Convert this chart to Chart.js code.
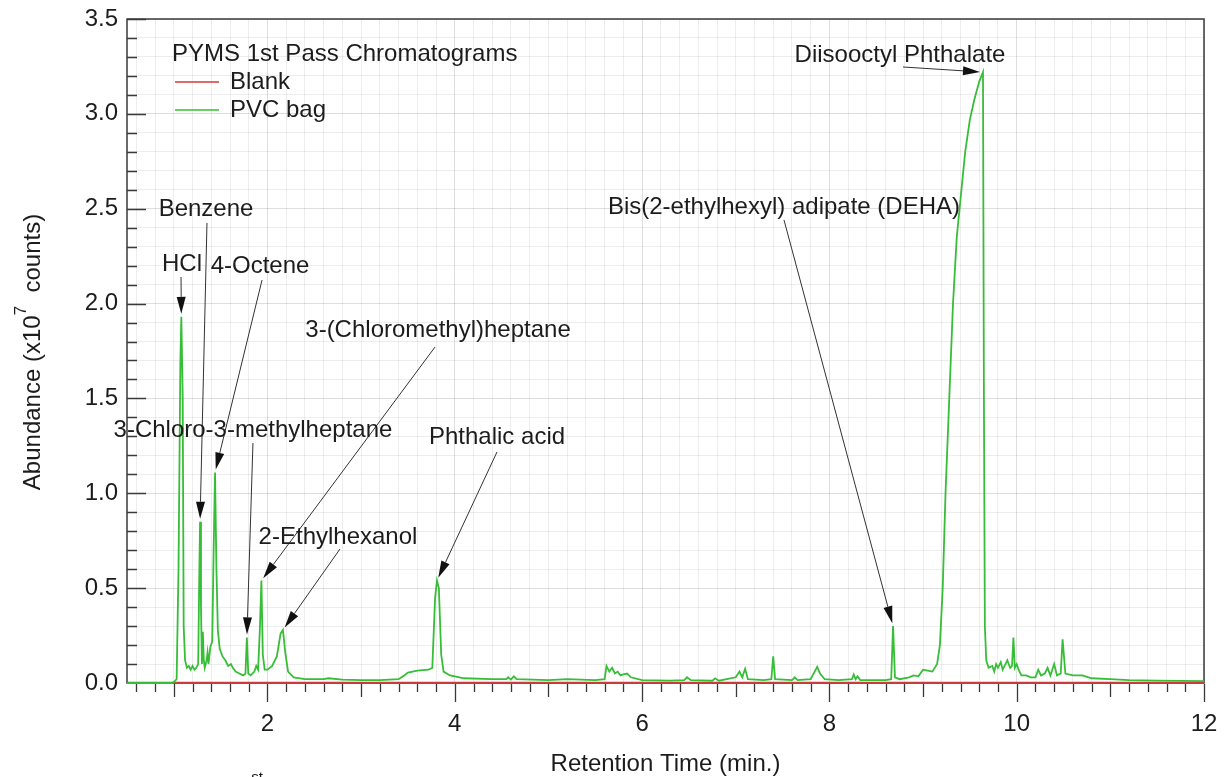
<!DOCTYPE html>
<html>
<head>
<meta charset="utf-8">
<title>PYMS 1st Pass Chromatograms</title>
<script src="https://cdn.jsdelivr.net/npm/chart.js@4.4.1/dist/chart.umd.min.js"></script>
<style>
  html, body { margin: 0; padding: 0; background: #fff; }
  #wrap { position: relative; width: 1225px; height: 777px; overflow: hidden; }
</style>
</head>
<body>
<div id="wrap"><canvas id="chromChart" width="1225" height="777"></canvas></div>
<script>
// Retention time (min.) and abundance (x10^7 counts) for the PVC bag run
const retentionTime = [
  0.5, 0.98, 1.0, 1.03, 1.05, 1.07, 1.08, 1.095, 1.105, 1.12, 1.14, 1.16, 1.18, 1.2, 1.22, 1.24, 1.26,
  1.27, 1.28, 1.29, 1.3, 1.31, 1.32, 1.33, 1.35, 1.36, 1.37, 1.39, 1.41, 1.425, 1.44, 1.455, 1.47,
  1.49, 1.52, 1.55, 1.58, 1.61, 1.63, 1.66, 1.7, 1.74, 1.765, 1.78, 1.795, 1.82, 1.86, 1.88, 1.9,
  1.92, 1.935, 1.95, 1.97, 2.0, 2.05, 2.1, 2.14, 2.165, 2.19, 2.22, 2.28, 2.4, 2.6, 2.65, 2.8, 3.0,
  3.2, 3.4, 3.46, 3.5, 3.6, 3.72, 3.76, 3.79, 3.81, 3.83, 3.855, 3.88, 3.95, 4.1, 4.4, 4.55, 4.57,
  4.6, 4.63, 4.66, 5.0, 5.2, 5.5, 5.6, 5.62, 5.65, 5.68, 5.71, 5.74, 5.77, 5.8, 5.84, 5.88, 6.0,
  6.3, 6.45, 6.48, 6.52, 6.75, 6.78, 6.82, 7.0, 7.04, 7.07, 7.1, 7.13, 7.3, 7.38, 7.4, 7.42, 7.6,
  7.63, 7.66, 7.8, 7.87, 7.9, 7.95, 8.1, 8.24, 8.26, 8.28, 8.3, 8.33, 8.6, 8.66, 8.68, 8.7, 8.75,
  8.85, 8.9, 8.95, 9.0, 9.05, 9.1, 9.15, 9.18, 9.21, 9.24, 9.28, 9.32, 9.36, 9.4, 9.45, 9.5, 9.55,
  9.6, 9.64, 9.65, 9.66, 9.675, 9.7, 9.74, 9.76, 9.78, 9.8, 9.83, 9.85, 9.88, 9.9, 9.93, 9.95,
  9.965, 9.98, 10.0, 10.02, 10.05, 10.1, 10.15, 10.2, 10.23, 10.26, 10.3, 10.33, 10.36, 10.4, 10.43,
  10.47, 10.49, 10.52, 10.6, 10.7, 10.8, 11.0, 11.2, 11.5, 12.0
];
const pvcBag = [
  0, 0, 0.005, 0.02, 0.6, 1.7, 1.93, 1.5, 0.3, 0.12, 0.08, 0.09, 0.07, 0.09, 0.07, 0.08, 0.1,
  0.5, 0.85, 0.4, 0.1, 0.27, 0.12, 0.08, 0.12, 0.16, 0.1, 0.19, 0.22, 0.7, 1.11, 0.6, 0.28,
  0.18, 0.14, 0.12, 0.09, 0.1, 0.08, 0.06, 0.05, 0.04, 0.05, 0.24, 0.05, 0.04, 0.06, 0.09, 0.07,
  0.3, 0.54, 0.15, 0.07, 0.07, 0.09, 0.14, 0.26, 0.28, 0.16, 0.06, 0.03, 0.02, 0.02, 0.025, 0.018, 0.015,
  0.015, 0.02, 0.04, 0.055, 0.065, 0.07, 0.08, 0.45, 0.54, 0.5, 0.15, 0.06, 0.04, 0.025, 0.02, 0.02, 0.03,
  0.018, 0.035, 0.02, 0.015, 0.02, 0.015, 0.02, 0.09, 0.06, 0.08, 0.05, 0.06, 0.04, 0.045, 0.05, 0.03, 0.015,
  0.012, 0.015, 0.03, 0.015, 0.012, 0.025, 0.012, 0.03, 0.06, 0.03, 0.075, 0.02, 0.015, 0.02, 0.14, 0.02, 0.015,
  0.03, 0.015, 0.02, 0.085, 0.05, 0.02, 0.015, 0.02, 0.045, 0.02, 0.035, 0.015, 0.015, 0.02, 0.3, 0.03, 0.02,
  0.03, 0.04, 0.035, 0.07, 0.065, 0.06, 0.1, 0.2, 0.5, 1.0, 1.5, 2.0, 2.35, 2.55, 2.8, 2.97, 3.08,
  3.17, 3.22, 1.5, 0.3, 0.12, 0.08, 0.09, 0.06, 0.1, 0.08, 0.11, 0.07, 0.1, 0.12, 0.08, 0.09,
  0.24, 0.08, 0.1, 0.07, 0.04, 0.04, 0.03, 0.03, 0.07, 0.04, 0.05, 0.08, 0.04, 0.1, 0.04,
  0.05, 0.23, 0.05, 0.04, 0.04, 0.025, 0.02, 0.015, 0.012, 0.01
];
// Blank run stays flat on the baseline
const blankTime = [0.5, 12];
const blankAbundance = [0.002, 0.002];

const xLabelValues = [2, 4, 6, 8, 10, 12];
const yLabelValues = [0.0, 0.5, 1.0, 1.5, 2.0, 2.5, 3.0, 3.5];

const compounds = [
  'HCl', 'Benzene', '4-Octene', '3-(Chloromethyl)heptane', '3-Chloro-3-methylheptane',
  'Phthalic acid', '2-Ethylhexanol', 'Bis(2-ethylhexyl) adipate (DEHA)', 'Diisooctyl Phthalate'
];
const compoundTimes = [1.08, 1.28, 1.44, 1.935, 1.78, 3.81, 2.165, 8.68, 9.64];

// where each compound name sits and where its pointer starts, in axis units
const labelLayout = [
  { text: [1.087, 2.209], tail: [1.077, 2.14] },
  { text: [1.344, 2.499], tail: [1.354, 2.425] },
  { text: [1.92, 2.198], tail: [1.942, 2.124] },
  { text: [3.821, 1.861], tail: [3.789, 1.771] },
  { text: [1.845, 1.334], tail: [1.845, 1.265] },
  { text: [4.451, 1.297], tail: [4.451, 1.218] },
  { text: [2.753, 0.77], tail: [2.774, 0.706] },
  { text: [7.515, 2.509], tail: [7.515, 2.441] },
  { text: [8.754, 3.31], tail: [8.786, 3.247] }
];

const FONT = '"Liberation Sans", Arial, sans-serif';
const TEXT_SIZE = 24;
const INK = '#1c1c1c';

function toPoints(xs, ys) {
  return xs.map((x, i) => ({ x: x, y: ys[i] }));
}

function round1(v) {
  return Math.round(v * 10) / 10;
}

function isHalfStep(v) {
  return Math.abs(v * 2 - Math.round(v * 2)) < 1e-6;
}

function peakValue(t) {
  let best = 0;
  retentionTime.forEach((rt, i) => {
    if (Math.abs(rt - t) < 0.012 && pvcBag[i] > best) best = pvcBag[i];
  });
  return best;
}

// frame box under the traces, tick marks on top (inside on y, hanging below on x)
const frameAndTicks = {
  id: 'frameAndTicks',
  beforeDatasetsDraw(chart) {
    const { ctx, chartArea: a } = chart;
    ctx.save();
    ctx.strokeStyle = '#3a3a3a';
    ctx.lineWidth = 1.5;
    ctx.strokeRect(a.left, a.top, a.right - a.left, a.bottom - a.top);
    ctx.restore();
  },
  afterDatasetsDraw(chart) {
    const { ctx, chartArea: a, scales: { x, y } } = chart;
    ctx.save();
    ctx.strokeStyle = '#3a3a3a';
    ctx.lineWidth = 1.3;
    ctx.beginPath();
    x.ticks.forEach(t => {
      const v = round1(t.value);
      const px = Math.round(x.getPixelForValue(v)) + 0.5;
      let len = 9;
      if (Number.isInteger(v)) len = v % 2 === 0 ? 19 : 14;
      ctx.moveTo(px, a.bottom + 1);
      ctx.lineTo(px, a.bottom + len);
    });
    y.ticks.forEach(t => {
      const v = round1(t.value);
      if (v <= 0) return;
      const py = Math.round(y.getPixelForValue(v)) + 0.5;
      const len = isHalfStep(v) ? 19 : 10;
      ctx.moveTo(a.left, py);
      ctx.lineTo(a.left + len, py);
    });
    ctx.stroke();
    ctx.restore();
  }
};

// legend block in the upper left of the plot
const legendBlock = {
  id: 'legendBlock',
  afterDraw(chart) {
    const { ctx } = chart;
    ctx.save();
    ctx.font = TEXT_SIZE + 'px ' + FONT;
    ctx.fillStyle = INK;
    ctx.textBaseline = 'middle';
    ctx.textAlign = 'left';
    ctx.fillText('PYMS 1st Pass Chromatograms', 172, 54);
    chart.data.datasets.forEach((ds, i) => {
      const ly = 82 + i * 28;
      ctx.strokeStyle = ds.borderColor;
      ctx.lineWidth = 1.6;
      ctx.beginPath();
      ctx.moveTo(175, ly);
      ctx.lineTo(219, ly);
      ctx.stroke();
      ctx.fillText(ds.label, 230, ly);
    });
    ctx.restore();
  }
};

// compound names with pointer arrows ending at each peak
const peakArrows = {
  id: 'peakArrows',
  afterDraw(chart) {
    const { ctx, scales: { x, y } } = chart;
    ctx.save();
    ctx.font = TEXT_SIZE + 'px ' + FONT;
    ctx.textAlign = 'center';
    ctx.textBaseline = 'middle';
    compounds.forEach((name, i) => {
      const lay = labelLayout[i];
      ctx.fillStyle = INK;
      ctx.fillText(name, x.getPixelForValue(lay.text[0]), y.getPixelForValue(lay.text[1]));

      const tx = x.getPixelForValue(lay.tail[0]);
      const ty = y.getPixelForValue(lay.tail[1]);
      const px = x.getPixelForValue(compoundTimes[i]);
      const py = y.getPixelForValue(peakValue(compoundTimes[i]));
      const len = Math.hypot(px - tx, py - ty);
      const dx = (px - tx) / len, dy = (py - ty) / len;
      const tipX = px - dx * 3, tipY = py - dy * 3;
      const baseX = tipX - dx * 17, baseY = tipY - dy * 17;

      ctx.strokeStyle = '#333';
      ctx.lineWidth = 1;
      ctx.beginPath();
      ctx.moveTo(tx, ty);
      ctx.lineTo(baseX, baseY);
      ctx.stroke();

      ctx.fillStyle = '#111';
      ctx.beginPath();
      ctx.moveTo(tipX, tipY);
      ctx.lineTo(baseX - dy * 4.5, baseY + dx * 4.5);
      ctx.lineTo(baseX + dy * 4.5, baseY - dx * 4.5);
      ctx.closePath();
      ctx.fill();
    });
    ctx.restore();
  }
};

// axis titles (y title carries a superscript exponent)
const axisTitles = {
  id: 'axisTitles',
  afterDraw(chart) {
    const { ctx, chartArea: a } = chart;
    ctx.save();
    ctx.fillStyle = INK;
    ctx.font = TEXT_SIZE + 'px ' + FONT;
    ctx.textBaseline = 'middle';
    ctx.textAlign = 'center';
    ctx.fillText('Retention Time (min.)', (a.left + a.right) / 2, 764);

    const head = 'Abundance (x10';
    const tail = '  counts)';
    const supFont = Math.round(TEXT_SIZE * 0.7) + 'px ' + FONT;
    const wHead = ctx.measureText(head).width;
    const wTail = ctx.measureText(tail).width;
    ctx.font = supFont;
    const wSup = ctx.measureText('7').width;
    const total = wHead + wSup + wTail;

    ctx.translate(33, 352);
    ctx.rotate(-Math.PI / 2);
    ctx.textAlign = 'left';
    let cx = -total / 2;
    ctx.font = TEXT_SIZE + 'px ' + FONT;
    ctx.fillText(head, cx, 0);
    cx += wHead;
    ctx.font = supFont;
    ctx.fillText('7', cx, -12);
    cx += wSup;
    ctx.font = TEXT_SIZE + 'px ' + FONT;
    ctx.fillText(tail, cx, 0);
    ctx.restore();

    // caption fragment at the bottom edge
    ctx.save();
    ctx.fillStyle = INK;
    ctx.font = '15px ' + FONT;
    ctx.textAlign = 'center';
    ctx.textBaseline = 'top';
    ctx.fillText('st', 257, 770);
    ctx.restore();
  }
};

function gridColor(major) {
  return major ? 'rgba(0,0,0,0.13)' : 'rgba(0,0,0,0.07)';
}

const ctx = document.getElementById('chromChart');
new Chart(ctx.getContext('2d'), {
  type: 'line',
  data: {
    datasets: [
      {
        label: 'Blank',
        data: toPoints(blankTime, blankAbundance),
        borderColor: 'rgb(205, 60, 60)',
        borderWidth: 1.6,
        pointRadius: 0,
        tension: 0,
        clip: 4,
        order: 1
      },
      {
        label: 'PVC bag',
        data: toPoints(retentionTime, pvcBag),
        borderColor: 'rgb(55, 190, 55)',
        borderWidth: 1.8,
        pointRadius: 0,
        tension: 0,
        clip: 4,
        order: 0
      }
    ]
  },
  options: {
    responsive: false,
    animation: false,
    events: [],
    layout: { padding: { left: 0, top: 19, right: 21, bottom: 0 } },
    plugins: {
      legend: { display: false },
      tooltip: { enabled: false }
    },
    scales: {
      x: {
        type: 'linear',
        min: 0.5,
        max: 12,
        afterFit: s => { s.height = 94; s.paddingLeft = 0; s.paddingRight = 0; },
        afterBuildTicks: s => {
          const t = [];
          for (let i = 3; i <= 60; i++) t.push({ value: round1(i * 0.2) });
          s.ticks = t;
        },
        ticks: {
          autoSkip: false,
          maxRotation: 0,
          padding: 27,
          color: INK,
          font: { family: FONT, size: TEXT_SIZE },
          callback: v => (xLabelValues.includes(round1(v)) ? String(round1(v)) : '')
        },
        grid: {
          drawTicks: false,
          lineWidth: 1,
          color: c => gridColor(c.tick && round1(c.tick.value) % 2 === 0)
        },
        border: { display: false }
      },
      y: {
        type: 'linear',
        min: 0,
        max: 3.5,
        afterFit: s => { s.width = 127; s.paddingTop = 0; s.paddingBottom = 0; },
        afterBuildTicks: s => {
          const t = [];
          for (let i = 0; i <= 35; i++) t.push({ value: round1(i * 0.1) });
          s.ticks = t;
        },
        ticks: {
          autoSkip: false,
          padding: 9,
          color: INK,
          font: { family: FONT, size: TEXT_SIZE },
          callback: v => (yLabelValues.includes(round1(v)) ? round1(v).toFixed(1) : '')
        },
        grid: {
          drawTicks: false,
          lineWidth: 1,
          color: c => gridColor(c.tick && isHalfStep(c.tick.value))
        },
        border: { display: false }
      }
    }
  },
  plugins: [frameAndTicks, legendBlock, peakArrows, axisTitles]
});
</script>
</body>
</html>
